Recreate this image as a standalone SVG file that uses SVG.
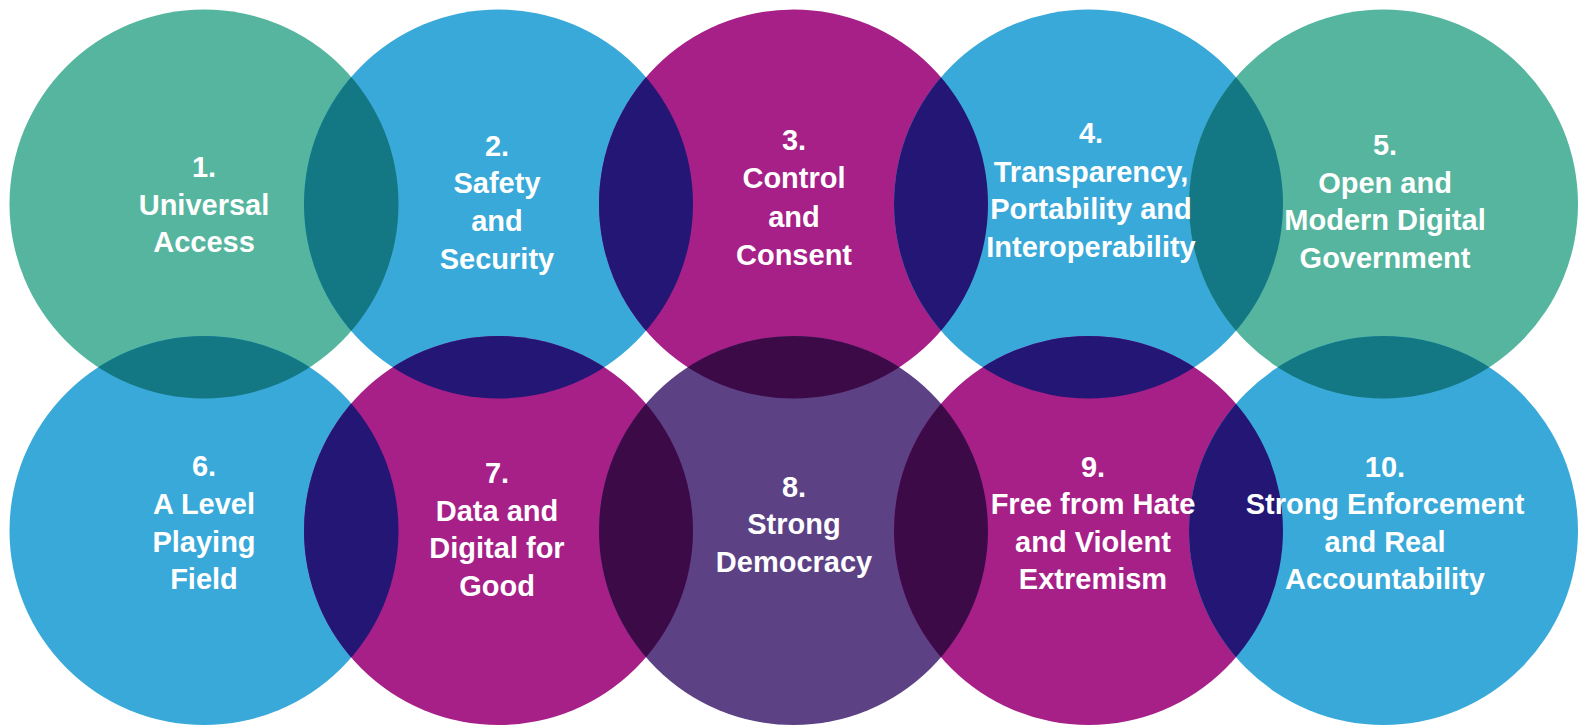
<svg xmlns="http://www.w3.org/2000/svg" width="1590" height="726" viewBox="0 0 1590 726">
<style>
.g{fill:#55B59E}.b{fill:#39A9D9}.m{fill:#A62088}.p{fill:#5D4185}
.tb{fill:#137883}.nv{fill:#231675}.pl{fill:#3D0A48}
text{font-family:"Liberation Sans",Arial,sans-serif;font-weight:bold;font-size:29px;fill:#ffffff;text-anchor:middle}
</style>
<defs>
<clipPath id="c1"><circle cx="204" cy="204" r="194.5"/></clipPath>
<clipPath id="c2"><circle cx="498.5" cy="204" r="194.5"/></clipPath>
<clipPath id="c3"><circle cx="793.5" cy="204" r="194.5"/></clipPath>
<clipPath id="c4"><circle cx="1088.5" cy="204" r="194.5"/></clipPath>
<clipPath id="c6"><circle cx="204" cy="530.5" r="194.5"/></clipPath>
<clipPath id="c7"><circle cx="498.5" cy="530.5" r="194.5"/></clipPath>
<clipPath id="c8"><circle cx="793.5" cy="530.5" r="194.5"/></clipPath>
<clipPath id="c9"><circle cx="1088.5" cy="530.5" r="194.5"/></clipPath>
<clipPath id="c5"><circle cx="1383.5" cy="204" r="194.5"/></clipPath>
</defs>
<g id="node1"><circle class="g" cx="204" cy="204" r="194.5"/></g>
<g id="node2"><circle class="b" cx="498.5" cy="204" r="194.5"/></g>
<g id="node3"><circle class="m" cx="793.5" cy="204" r="194.5"/></g>
<g id="node4"><circle class="b" cx="1088.5" cy="204" r="194.5"/></g>
<g id="node5"><circle class="g" cx="1383.5" cy="204" r="194.5"/></g>
<g id="node6"><circle class="b" cx="204" cy="530.5" r="194.5"/></g>
<g id="node7"><circle class="m" cx="498.5" cy="530.5" r="194.5"/></g>
<g id="node8"><circle class="p" cx="793.5" cy="530.5" r="194.5"/></g>
<g id="node9"><circle class="m" cx="1088.5" cy="530.5" r="194.5"/></g>
<g id="node10"><circle class="b" cx="1383.5" cy="530.5" r="194.5"/></g>
<g id="overlaps">
<circle class="tb" cx="498.5" cy="204" r="194.5" clip-path="url(#c1)"/>
<circle class="nv" cx="793.5" cy="204" r="194.5" clip-path="url(#c2)"/>
<circle class="nv" cx="1088.5" cy="204" r="194.5" clip-path="url(#c3)"/>
<circle class="tb" cx="1383.5" cy="204" r="194.5" clip-path="url(#c4)"/>
<circle class="nv" cx="498.5" cy="530.5" r="194.5" clip-path="url(#c6)"/>
<circle class="pl" cx="793.5" cy="530.5" r="194.5" clip-path="url(#c7)"/>
<circle class="pl" cx="1088.5" cy="530.5" r="194.5" clip-path="url(#c8)"/>
<circle class="nv" cx="1383.5" cy="530.5" r="194.5" clip-path="url(#c9)"/>
<circle class="tb" cx="204" cy="530.5" r="194.5" clip-path="url(#c1)"/>
<circle class="nv" cx="498.5" cy="530.5" r="194.5" clip-path="url(#c2)"/>
<circle class="pl" cx="793.5" cy="530.5" r="194.5" clip-path="url(#c3)"/>
<circle class="nv" cx="1088.5" cy="530.5" r="194.5" clip-path="url(#c4)"/>
<circle class="tb" cx="1383.5" cy="530.5" r="194.5" clip-path="url(#c5)"/>
</g>
<g id="labels">
<g id="label1"><text x="204" y="177">1.</text><text x="204" y="215">Universal</text><text x="204" y="252">Access</text></g>
<g id="label2"><text x="497" y="156">2.</text><text x="497" y="193">Safety</text><text x="497" y="231">and</text><text x="497" y="269">Security</text></g>
<g id="label3"><text x="794" y="150">3.</text><text x="794" y="188">Control</text><text x="794" y="227">and</text><text x="794" y="265">Consent</text></g>
<g id="label4"><text x="1091" y="143">4.</text><text x="1091" y="182">Transparency,</text><text x="1091" y="219">Portability and</text><text x="1091" y="257">Interoperability</text></g>
<g id="label5"><text x="1385" y="155">5.</text><text x="1385" y="193">Open and</text><text x="1385" y="230">Modern Digital</text><text x="1385" y="268">Government</text></g>
<g id="label6"><text x="204" y="476">6.</text><text x="204" y="514">A Level</text><text x="204" y="552">Playing</text><text x="204" y="589">Field</text></g>
<g id="label7"><text x="497" y="483">7.</text><text x="497" y="521">Data and</text><text x="497" y="558">Digital for</text><text x="497" y="596">Good</text></g>
<g id="label8"><text x="794" y="497">8.</text><text x="794" y="534">Strong</text><text x="794" y="572">Democracy</text></g>
<g id="label9"><text x="1093" y="477">9.</text><text x="1093" y="514">Free from Hate</text><text x="1093" y="552">and Violent</text><text x="1093" y="589">Extremism</text></g>
<g id="label10"><text x="1385" y="477">10.</text><text x="1385" y="514">Strong Enforcement</text><text x="1385" y="552">and Real</text><text x="1385" y="589">Accountability</text></g>
</g>
</svg>
